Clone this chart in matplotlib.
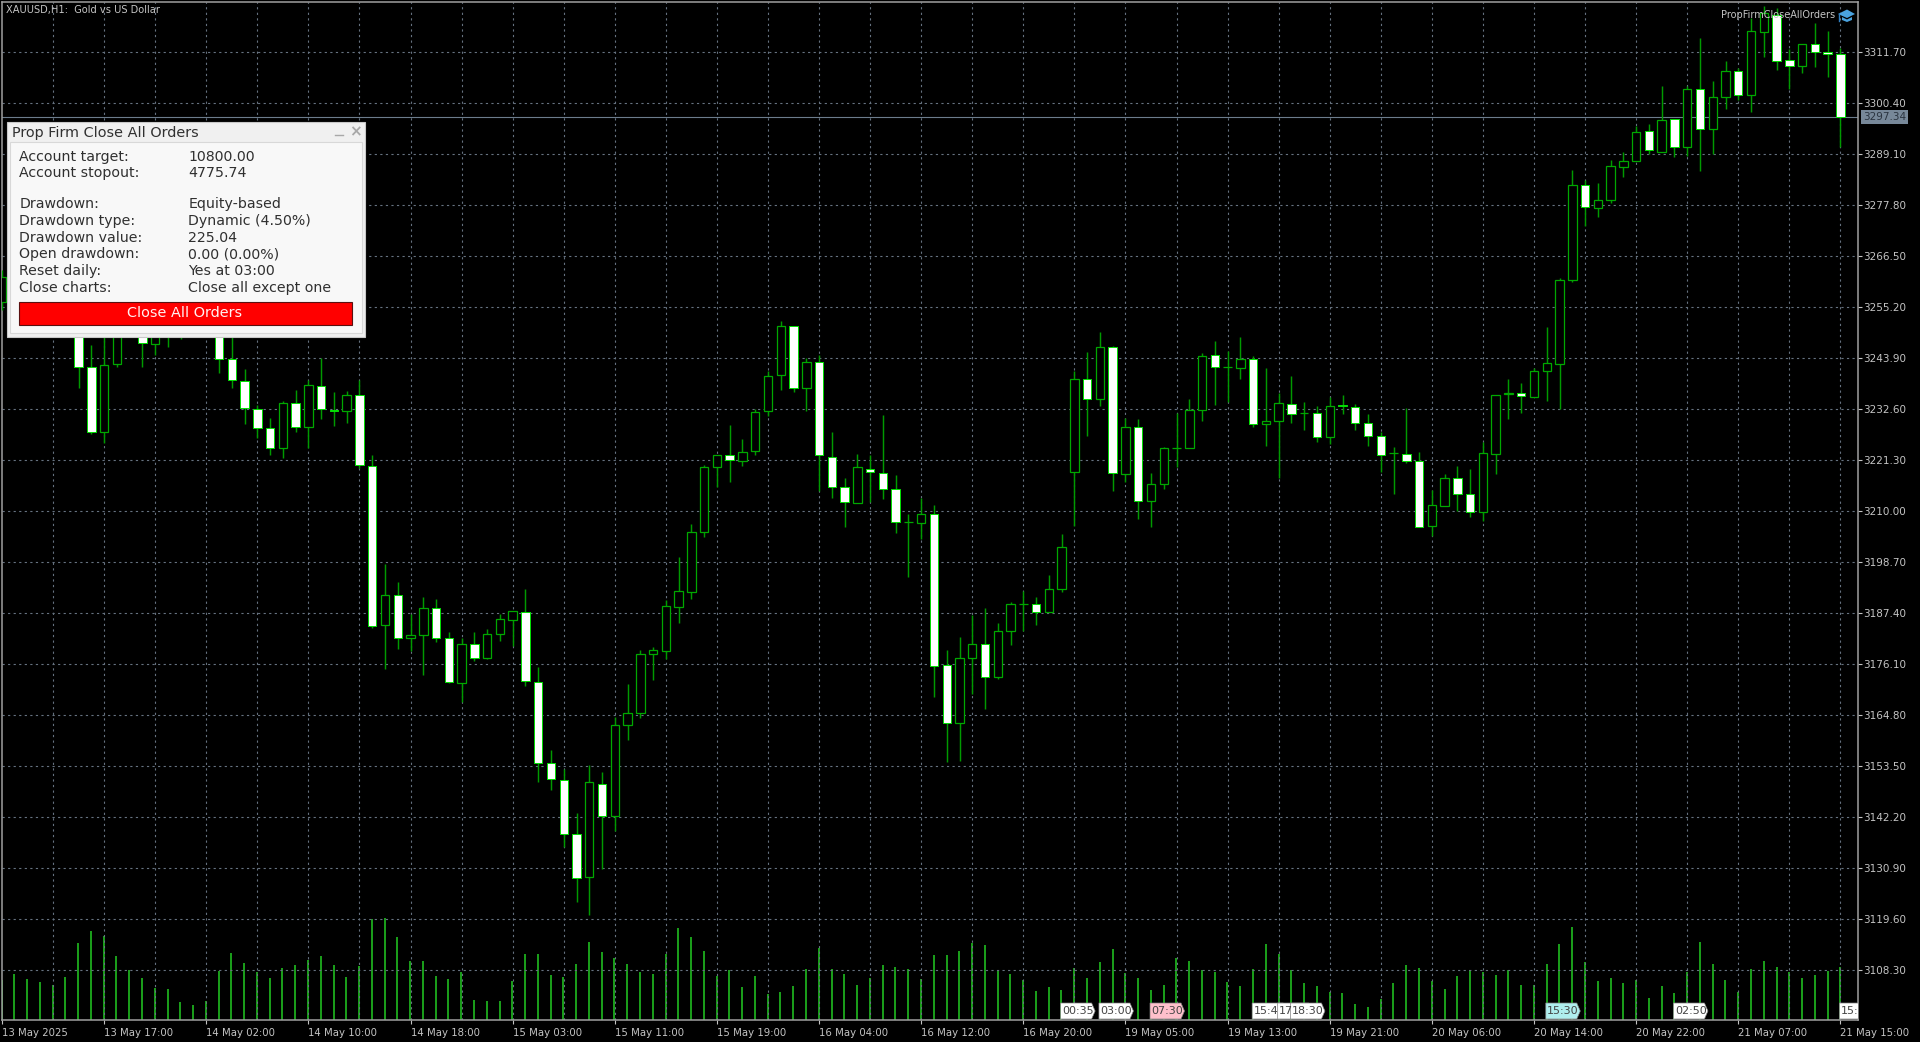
import matplotlib
matplotlib.use("Agg")
import matplotlib.pyplot as plt
from matplotlib.patches import Rectangle, Polygon
import numpy as np

W, H = 1920, 1042
plt.rcParams['font.family'] = ['DejaVu Sans']

# first entry of each series is the clipped bar to the left of 13 May 2025
opens = [3256.3,3261.8,3264,3266,3263,3260,3256.7,3241.9,3227.5,3242.6,3254,3252,3247,3254,3251,3253,3255,3255,3243.7,3238.8,3232.6,3228.4,3224,3233.9,3228.6,3237.7,3232.4,3232.1,3235.7,3220,3184.7,3191.4,3181.8,3182.5,3188.5,3181.8,3171.9,3180.5,3177.4,3182.7,3185.8,3187.6,3172.1,3154.2,3150.4,3138.5,3128.8,3149.6,3142.4,3162.6,3165.2,3178.3,3179,3188.7,3192,3205.3,3219.7,3222.4,3221.1,3223.2,3232.1,3240.2,3251,3237.3,3243.1,3222,3215.3,3211.8,3219.4,3218.3,3214.9,3207.6,3207.3,3209.3,3175.9,3163.1,3177.4,3180.6,3173.2,3183.4,3189.4,3189.4,3187.5,3192.7,3218.7,3239.2,3234.8,3246.4,3218.2,3228.6,3212.2,3216,3224,3224,3232.4,3244.6,3241.9,3241.7,3243.7,3229.3,3229.9,3233.7,3231.7,3231.8,3226.4,3233.4,3233,3229.5,3226.7,3222.9,3222.7,3221,3206.7,3211.2,3217.2,3213.8,3209.8,3222.7,3235.9,3236.1,3235.2,3241.1,3242.6,3261.2,3282.3,3277.1,3278.8,3286.3,3287.6,3294.1,3289.6,3296.8,3290.6,3303.4,3294.6,3301.8,3307.4,3302.1,3316.2,3319.9,3310,3308.5,3313.5,3311.7,3311.2]
highs = [3263.4,3267,3268,3269,3265,3264,3259,3246.8,3251,3256,3258,3255,3254,3257,3256,3257,3258,3257,3250,3241.5,3233.5,3230.6,3234.4,3236.8,3239,3243.9,3236.4,3236.6,3239,3222.4,3198.2,3194.2,3187.2,3190.9,3190.5,3183.2,3181.8,3183.2,3183.9,3187.2,3187.8,3192.7,3175.5,3157,3152.8,3143,3153.7,3152.2,3164.3,3171.7,3179.2,3179.9,3190.3,3199.8,3207,3220.2,3222.5,3229,3225.9,3232.6,3241.1,3252.2,3251,3243.9,3244.6,3227.5,3217.4,3222.6,3222.4,3231.2,3218,3209.3,3212.9,3211.3,3179.2,3182,3186.9,3188.5,3185.2,3189.8,3192.3,3191,3195.7,3204.9,3241.1,3245.3,3249.7,3246.6,3230.6,3230.4,3218.3,3224.2,3231.7,3234.8,3245,3247.7,3245.4,3248.5,3244.4,3241.7,3236.1,3239.9,3234.1,3233.3,3235.2,3235.7,3233.8,3231.5,3227.5,3224.2,3232.8,3223.1,3214.6,3218.2,3220,3219.2,3225.3,3235.7,3239.2,3238.3,3241.7,3250.7,3261.6,3285.6,3283.4,3282.7,3287.8,3289.6,3295.3,3295.8,3304.2,3296.8,3304.2,3314.8,3305.2,3309.6,3308.2,3319.3,3321.9,3321.4,3312.4,3313.5,3318.2,3316.3,3312.6]
lows = [3254.5,3259,3261,3262,3258,3256,3237.3,3227.1,3225.1,3241.9,3250,3241.9,3244.6,3246.3,3248.1,3250,3250,3240.6,3237.3,3229.3,3226.2,3222.4,3221.7,3227.5,3224,3230.4,3228.8,3229.5,3219.5,3184.1,3175,3179.4,3179,3173.6,3180.9,3171.9,3167.7,3176.8,3177.2,3181.2,3180.1,3171.2,3150,3148.2,3135.5,3123.4,3120.5,3130.7,3139.1,3159.2,3164.2,3172.5,3177.2,3185.2,3190.5,3204.2,3215.4,3216.5,3219.9,3222.3,3231.1,3236.7,3236.4,3232.1,3214.5,3212.9,3206.5,3211.8,3212,3212.6,3205.2,3195.4,3203.7,3168.8,3154.3,3154.7,3169.4,3166.1,3172.8,3180.3,3183.4,3184.7,3187.5,3192,3206.7,3226.5,3233.2,3214.5,3216.5,3208.2,3206.5,3214.9,3219.8,3224,3230,3233.5,3234.2,3239.2,3228.7,3224.5,3217.3,3229.5,3227.9,3225.3,3224.8,3231.5,3227.9,3224.5,3218.6,3213.8,3220.6,3206.5,3204.4,3211.2,3209.9,3208.7,3207.8,3218.2,3230.4,3231.8,3235.2,3234.4,3232.6,3260.7,3273.2,3275.2,3278.3,3284,3287.6,3289.1,3289.6,3288.4,3288.6,3285.4,3289.1,3299.1,3301.1,3298.3,3310.7,3307.8,3303.4,3307,3308.4,3306.2,3290.6]
closes = [3261.8,3264,3266,3263,3260,3257,3241.9,3227.5,3242.3,3254,3252,3247.2,3252,3251,3253,3255,3252,3243.7,3239,3232.8,3228.4,3224,3233.9,3228.6,3237.9,3232.6,3232.1,3235.7,3220.2,3184.5,3191.4,3181.8,3182.5,3188.5,3181.8,3172.1,3180.5,3177.4,3182.7,3186,3187.8,3172.3,3154.2,3150.6,3138.5,3128.7,3149.9,3142.4,3162.6,3165.2,3178.3,3179.2,3189,3192.3,3205.3,3219.7,3222.5,3221.3,3223.1,3231.9,3239.9,3251,3237.2,3243.1,3222.3,3215.4,3211.9,3219.7,3218.6,3214.9,3207.6,3207.6,3209.3,3175.6,3163.1,3177.4,3180.5,3173.1,3183.4,3189.4,3189.4,3187.6,3192.7,3202,3239.2,3234.8,3246.4,3218.4,3228.6,3212.2,3216,3224,3224,3232.4,3244.3,3241.9,3241.9,3243.7,3229.3,3229.9,3233.9,3231.5,3231.7,3226.4,3233.3,3233.2,3229.5,3226.7,3222.5,3222.9,3221,3206.5,3211.3,3217.2,3213.8,3209.8,3222.9,3235.7,3236.1,3235.4,3241.1,3242.8,3261.2,3282.3,3277.4,3278.8,3286.4,3287.6,3294,3290,3296.7,3290.7,3303.4,3294.6,3301.8,3307.4,3302.1,3316.3,3320.3,3309.7,3308.5,3313.5,3311.7,3311.2,3297.34]
volumes = [40,46,41,38,35,43,77,89,84,64,50,42,32,31,18,15,19,49,67,57,48,42,52,55,60,64,55,43,54,101,102,83,59,59,44,41,48,20,19,19,39,66,66,45,43,56,78,68,62,56,48,46,66,92,83,69,44,50,33,44,26,28,34,51,72,51,46,35,42,55,53,51,41,65,65,69,77,75,49,46,40,29,33,30,52,42,58,71,47,42,30,35,62,59,50,48,38,34,51,76,66,50,37,34,28,27,16,13,21,37,55,52,39,31,44,50,48,45,50,35,35,56,76,93,58,39,42,37,40,22,34,27,48,78,56,40,28,51,59,53,48,42,45,49,53]

price_ticks = [3311.70,3300.40,3289.10,3277.80,3266.50,3255.20,3243.90,3232.60,3221.30,3210.00,3198.70,3187.40,3176.10,3164.80,3153.50,3142.20,3130.90,3119.60,3108.30]
time_tick_bars = [-1,7,15,23,31,39,47,55,63,71,79,87,95,103,111,119,127,135,143]
time_labels = ["13 May 2025","13 May 17:00","14 May 02:00","14 May 10:00","14 May 18:00","15 May 03:00","15 May 11:00","15 May 19:00","16 May 04:00","16 May 12:00","16 May 20:00","19 May 05:00","19 May 13:00","19 May 21:00","20 May 06:00","20 May 14:00","20 May 22:00","21 May 07:00","21 May 15:00"]
last_price = 3297.34

event_bars = [82,85,89,97,99,100,120,130,143]
event_labels = ["00:35","03:00","07:30","15:4","17","18:30","15:30","02:50","15:"]
event_colors = ["#ffffff","#ffffff","#ffc0cb","#ffffff","#ffffff","#ffffff","#afeeee","#ffffff","#ffffff"]

panel_rows = [("Account target:","10800.00"),("Account stopout:","4775.74"),("Drawdown:","Equity-based"),("Drawdown type:","Dynamic (4.50%)"),("Drawdown value:","225.04"),("Open drawdown:","0.00 (0.00%)"),("Reset daily:","Yes at 03:00"),("Close charts:","Close all except one")]
panel_row_y = [156.7,173.3,204.3,221,237.7,254.3,271,288.3]

n = len(closes)
bars = np.arange(n) - 1
o, h, l, c = map(np.array, (opens, highs, lows, closes))

fig = plt.figure(figsize=(W/100, H/100), dpi=100, facecolor='black')
L, R, T, B = 2, 1858, 2, 1020
pos = [L/W, 1-B/H, (R-L)/W, (B-T)/H]

# volume histogram on its own scale, underneath the price axes
axv = fig.add_axes(pos, facecolor='black', zorder=1)
axv.set_xlim((L-14.3)/12.77, (R-14.3)/12.77)
axv.set_ylim(0, B-T)
axv.axis('off')
axv.vlines(bars, 0, volumes, color='#22cc22', lw=1.1)

ax = fig.add_axes(pos, facecolor='none', zorder=2)
ax.set_xlim((L-14.3)/12.77, (R-14.3)/12.77)
ax.set_ylim(3097.2, 3322.78)

GRID = '#667280'
ax.set_yticks(price_ticks)
ax.set_yticklabels([f"{p:.2f}" for p in price_ticks])
ax.set_xticks(time_tick_bars)
ax.set_xticklabels(time_labels, ha='left')
ax.tick_params(axis='y', right=True, left=False, labelright=True, labelleft=False, colors='#c4c4c4',
               labelsize=7.5, length=3, width=0.8, pad=1)
ax.tick_params(axis='x', colors='#c4c4c4', labelsize=7.3, length=3, width=0.8, pad=3)
for s in ax.spines.values():
    s.set_color('#a0a0a0'); s.set_linewidth(1.1)
for p in price_ticks:
    ax.axhline(p, color=GRID, lw=0.8, ls=(0, (2, 3)), zorder=1)
for b in np.arange(3, 144, 4):
    ax.axvline(b, color=GRID, lw=0.8, ls=(0, (2, 3)), zorder=1)

ax.axhline(last_price, color='#6c7c8c', lw=0.8, zorder=2)

# candles
WICK = '#009a00'; EDGE = '#00a800'; EDGE_W = '#00e000'
ax.vlines(bars, l, h, color=WICK, lw=1.05, zorder=3)
up = c >= o
ax.bar(bars[up], (c-o)[up], bottom=o[up], width=0.66, facecolor='black', edgecolor=EDGE, lw=0.9, zorder=4)
ax.bar(bars[~up], (c-o)[~up], bottom=o[~up], width=0.66, facecolor='white', edgecolor=EDGE_W, lw=0.7, zorder=4)

# overlay in pixel coordinates
ov = fig.add_axes([0, 0, 1, 1], facecolor='none', zorder=3)
ov.set_xlim(0, W); ov.set_ylim(H, 0); ov.axis('off')

# last price tag
ov.add_patch(Rectangle((1860.5, 110), 47.5, 14, fc='#778899', ec='none', zorder=5))
ov.text(1884.5, 117.2, "3297.34", color='#2a3440', fontsize=7.5, ha='center', va='center', zorder=6)

# title and expert name
ov.text(6, 10.5, "XAUUSD,H1:  Gold vs US Dollar", color='#c4c4c4', fontsize=7.1, ha='left', va='center')
ov.text(1720.5, 15, "PropFirmCloseAllOrders", color='#c4c4c4', fontsize=7.0, ha='left', va='center', zorder=7)
ov.add_patch(Polygon([(1838, 14), (1847, 9.5), (1855, 14), (1847, 18)], fc='#4aa3df', ec='none', zorder=7))
ov.add_patch(Polygon([(1842, 17), (1847, 19.5), (1852, 17), (1852, 20), (1847, 22), (1842, 20)], fc='#4aa3df', ec='none', zorder=7))
ov.plot([1838.5, 1838.5], [14, 21], color='#2f7fc0', lw=1.0, zorder=7)

# event tags on the time axis
clip = Rectangle((0, 0), R, H, transform=ov.transData)
for bar, lab, col in zip(event_bars, event_labels, event_colors):
    px = ax.transData.transform((bar, 3200))[0]
    x0 = px - 1
    poly = Polygon([(x0, 1003), (x0+31, 1003), (x0+34.5, 1011), (x0+31, 1019), (x0, 1019)],
                   fc=col, ec='#808080', lw=0.5, zorder=8)
    ov.add_patch(poly); poly.set_clip_path(clip)
    ov.text(x0+1.5, 1011, lab, color='#454545', fontsize=8, ha='left', va='center', zorder=9)

# panel
ov.add_patch(Rectangle((6.7, 122), 358.3, 215, fc='#f0f0f0', ec='#c8c8c8', lw=0.8, zorder=10))
ov.add_patch(Rectangle((10, 142), 351.7, 191, fc='#f8f8f8', ec='#d8d8d8', lw=0.8, zorder=11))
ov.text(11.7, 132.7, "Prop Firm Close All Orders", color='#303030', fontsize=10.4, ha='left', va='center', zorder=12)
ov.plot([335, 343], [134.7, 134.7], color='#a8a8a8', lw=1.0, zorder=12)
ov.text(355, 132, "×", color='#a8a8a8', fontsize=11, fontweight='bold', ha='center', va='center', zorder=12)
for (lab, val), yy in zip(panel_rows, panel_row_y):
    ov.text(19.3, yy, lab, color='#303030', fontsize=10.2, ha='left', va='center', zorder=12)
    ov.text(188.3, yy, val, color='#303030', fontsize=10.2, ha='left', va='center', zorder=12)
ov.add_patch(Rectangle((19.3, 301.7), 332.7, 23.3, fc='#ff0000', ec='#5a1010', lw=0.8, zorder=12))
ov.text(185, 313, "Close All Orders", color='#fff2f2', fontsize=10.4, ha='center', va='center', zorder=13)

fig.savefig('out.png', dpi=100, facecolor='black')
